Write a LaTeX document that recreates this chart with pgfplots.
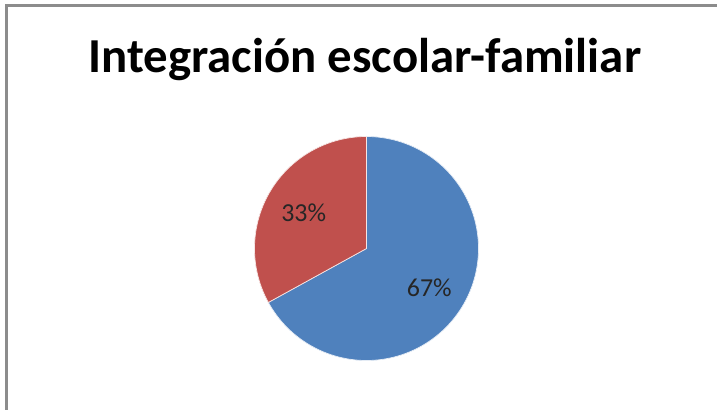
\documentclass[border=0pt]{standalone}
\usepackage{pgfplots}
\pgfplotsset{compat=1.18}
\usepackage{pgfplotstable}
\usepackage{fontspec}
\setmainfont{Carlito}
\definecolor{pieblue}{HTML}{4F81BD}
\definecolor{piered}{HTML}{C0504D}
\definecolor{framegray}{HTML}{8C8C8C}
\pgfplotstableread{
name value
A 67
B 33
}\piedata
\begin{document}
\begin{tikzpicture}[x=1bp,y=1bp]
\useasboundingbox (0,0) rectangle (717,409);
\draw[framegray, line width=2.5bp] (6.5,-20) -- (6.5,403.5) -- (740,403.5);
\node[anchor=base, inner sep=0pt, font=\bfseries\fontsize{49}{58}\selectfont] at (365,337) {Integración escolar-familiar};
\pgfplotstablegetelem{0}{value}\of\piedata \edef\va{\pgfplotsretval}
\pgfplotstablegetelem{1}{value}\of\piedata \edef\vb{\pgfplotsretval}
\pgfmathsetmacro{\aStart}{90-3.6*\va}
\pgfmathsetmacro{\bEnd}{90+3.6*\vb}
\pgfmathsetmacro{\aMid}{90-1.8*\va}
\pgfmathsetmacro{\bMid}{90+1.8*\vb}
\pgfmathsetmacro{\cx}{366.5}
\pgfmathsetmacro{\cy}{160.5}
\pgfmathsetmacro{\R}{112}
\pgfmathsetmacro{\ax}{\cx+73*cos(\aMid)}
\pgfmathsetmacro{\ay}{\cy+73*sin(\aMid)-2}
\pgfmathsetmacro{\bx}{\cx+73*cos(\bMid)}
\pgfmathsetmacro{\by}{\cy+73*sin(\bMid)-1}
\begin{axis}[x=1bp,y=1bp,xmin=0,xmax=717,ymin=0,ymax=409,anchor=origin,at={(0,0)},hide axis,clip=false,samples=120]
\addplot[fill=pieblue, draw=white!85!pieblue, line width=0.7bp, domain=\aStart:90, variable=\t] ({\cx+\R*cos(\t)},{\cy+\R*sin(\t)}) -- (axis cs:\cx,\cy) -- cycle;
\addplot[fill=piered, draw=white!85!piered, line width=0.7bp, domain=90:\bEnd, variable=\t] ({\cx+\R*cos(\t)},{\cy+\R*sin(\t)}) -- (axis cs:\cx,\cy) -- cycle;
\node[font=\fontsize{26}{30}\selectfont, text=black!85] at (axis cs:\ax,\ay) {\va\%};
\node[font=\fontsize{26}{30}\selectfont, text=black!85] at (axis cs:\bx,\by) {\vb\%};
\end{axis}
\end{tikzpicture}
\end{document}
